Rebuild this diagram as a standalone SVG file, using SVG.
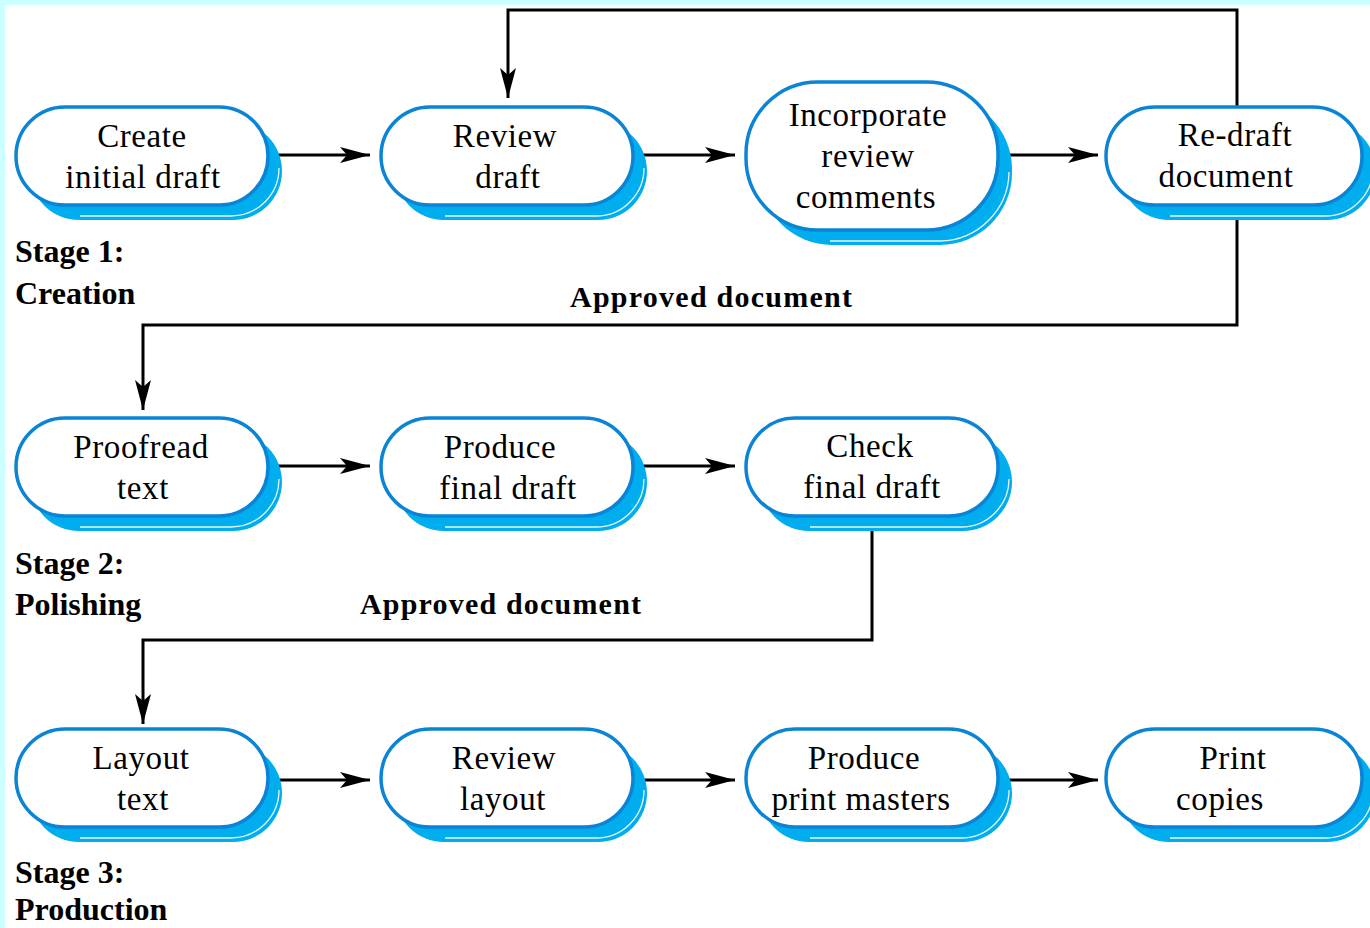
<svg xmlns="http://www.w3.org/2000/svg" width="1370" height="928" viewBox="0 0 1370 928">
<style>
.shadow{fill:#00ADEF;}
.hl{fill:none;stroke:#ffffff;stroke-width:1.3;opacity:0.9;}
.pill{fill:#ffffff;stroke:#0B84D6;stroke-width:3.5;}
.nt{font-family:"Liberation Serif","Times New Roman",serif;font-size:33px;fill:#000;text-anchor:middle;letter-spacing:0.6px;}
.st{font-family:"Liberation Serif","Times New Roman",serif;font-size:32px;font-weight:bold;fill:#000;}
.ap{font-family:"Liberation Serif","Times New Roman",serif;font-size:30px;font-weight:bold;fill:#000;}
.conn{fill:none;stroke:#000;stroke-width:3;}
</style>
<defs>
<marker id="ah" markerUnits="userSpaceOnUse" markerWidth="32" markerHeight="20" refX="30" refY="9" orient="auto">
<path d="M0,1 L30,9 L0,17 L7,9 z" fill="#000"/>
</marker>
</defs>
<rect x="0" y="0" width="1370" height="928" fill="#ffffff"/>
<rect x="0" y="0" width="1370" height="5" fill="#CCFFFF"/>
<rect x="0" y="0" width="5" height="928" fill="#CCFFFF"/>

<g id="connectors">
<line class="conn" x1="270" y1="155" x2="370" y2="155" marker-end="url(#ah)"/>
<line class="conn" x1="635" y1="155" x2="735" y2="155" marker-end="url(#ah)"/>
<line class="conn" x1="1000" y1="155" x2="1098" y2="155" marker-end="url(#ah)"/>
<polyline class="conn" points="1237,107 1237,10 508,10 508,98" marker-end="url(#ah)"/>
<polyline class="conn" points="1237,207 1237,325 143,325 143,410" marker-end="url(#ah)"/>
<line class="conn" x1="270" y1="466" x2="370" y2="466" marker-end="url(#ah)"/>
<line class="conn" x1="635" y1="466" x2="735" y2="466" marker-end="url(#ah)"/>
<polyline class="conn" points="872,518 872,640 143,640 143,724" marker-end="url(#ah)"/>
<line class="conn" x1="270" y1="780" x2="370" y2="780" marker-end="url(#ah)"/>
<line class="conn" x1="635" y1="780" x2="735" y2="780" marker-end="url(#ah)"/>
<line class="conn" x1="1000" y1="780" x2="1098" y2="780" marker-end="url(#ah)"/>
</g>

<g id="node-create">
<rect class="shadow" x="30" y="122" width="252" height="98" rx="49"/>
<path class="hl" d="M80,216 L231,216 A48,48 0 0 0 279,168"/>
<rect class="pill" x="16" y="107" width="252" height="98" rx="49"/>
<text class="nt" x="142" y="147">Create</text>
<text class="nt" x="143" y="188">initial draft</text>
</g>
<g id="node-review-draft">
<rect class="shadow" x="395" y="122" width="252" height="98" rx="49"/>
<path class="hl" d="M445,216 L596,216 A48,48 0 0 0 644,168"/>
<rect class="pill" x="381" y="107" width="252" height="98" rx="49"/>
<text class="nt" x="505" y="147">Review</text>
<text class="nt" x="508" y="188">draft</text>
</g>
<g id="node-incorporate">
<rect class="shadow" x="760" y="97" width="252" height="148" rx="72"/>
<path class="hl" d="M830,241 L940,241 A70,70 0 0 0 1009,172"/>
<rect class="pill" x="746" y="82" width="252" height="148" rx="72"/>
<text class="nt" x="868" y="126">Incorporate</text>
<text class="nt" x="868" y="167">review</text>
<text class="nt" x="866" y="208">comments</text>
</g>
<g id="node-redraft">
<rect class="shadow" x="1120" y="122" width="256" height="98" rx="49"/>
<path class="hl" d="M1170,216 L1325,216 A48,48 0 0 0 1373,168"/>
<rect class="pill" x="1106" y="107" width="256" height="98" rx="49"/>
<text class="nt" x="1235" y="146">Re-draft</text>
<text class="nt" x="1226" y="187">document</text>
</g>

<g id="node-proofread">
<rect class="shadow" x="30" y="433" width="252" height="98" rx="49"/>
<path class="hl" d="M80,527 L231,527 A48,48 0 0 0 279,479"/>
<rect class="pill" x="16" y="418" width="252" height="98" rx="49"/>
<text class="nt" x="141" y="458">Proofread</text>
<text class="nt" x="143" y="499">text</text>
</g>
<g id="node-produce-final">
<rect class="shadow" x="395" y="433" width="252" height="98" rx="49"/>
<path class="hl" d="M445,527 L596,527 A48,48 0 0 0 644,479"/>
<rect class="pill" x="381" y="418" width="252" height="98" rx="49"/>
<text class="nt" x="500" y="458">Produce</text>
<text class="nt" x="508" y="499">final draft</text>
</g>
<g id="node-check-final">
<rect class="shadow" x="760" y="433" width="252" height="98" rx="49"/>
<path class="hl" d="M810,527 L961,527 A48,48 0 0 0 1009,479"/>
<rect class="pill" x="746" y="418" width="252" height="98" rx="49"/>
<text class="nt" x="870" y="457">Check</text>
<text class="nt" x="872" y="498">final draft</text>
</g>

<g id="node-layout-text">
<rect class="shadow" x="30" y="744" width="252" height="98" rx="49"/>
<path class="hl" d="M80,838 L231,838 A48,48 0 0 0 279,790"/>
<rect class="pill" x="16" y="729" width="252" height="98" rx="49"/>
<text class="nt" x="141" y="769">Layout</text>
<text class="nt" x="143" y="810">text</text>
</g>
<g id="node-review-layout">
<rect class="shadow" x="395" y="744" width="252" height="98" rx="49"/>
<path class="hl" d="M445,838 L596,838 A48,48 0 0 0 644,790"/>
<rect class="pill" x="381" y="729" width="252" height="98" rx="49"/>
<text class="nt" x="504" y="769">Review</text>
<text class="nt" x="503" y="810">layout</text>
</g>
<g id="node-print-masters">
<rect class="shadow" x="760" y="744" width="252" height="98" rx="49"/>
<path class="hl" d="M810,838 L961,838 A48,48 0 0 0 1009,790"/>
<rect class="pill" x="746" y="729" width="252" height="98" rx="49"/>
<text class="nt" x="864" y="769">Produce</text>
<text class="nt" x="861" y="810">print masters</text>
</g>
<g id="node-print-copies">
<rect class="shadow" x="1120" y="744" width="256" height="98" rx="49"/>
<path class="hl" d="M1170,838 L1325,838 A48,48 0 0 0 1373,790"/>
<rect class="pill" x="1106" y="729" width="256" height="98" rx="49"/>
<text class="nt" x="1233" y="769">Print</text>
<text class="nt" x="1220" y="810" letter-spacing="-1.5px">copies</text>
</g>

<g id="labels">
<text class="st" x="15" y="262">Stage 1:</text>
<text class="st" x="15" y="304">Creation</text>
<text class="st" x="15" y="574">Stage 2:</text>
<text class="st" x="15" y="615">Polishing</text>
<text class="st" x="15" y="883">Stage 3:</text>
<text class="st" x="15" y="920">Production</text>
<text class="ap" x="570" y="307" textLength="282" lengthAdjust="spacing">Approved document</text>
<text class="ap" x="360" y="614" textLength="281" lengthAdjust="spacing">Approved document</text>
</g>
</svg>
